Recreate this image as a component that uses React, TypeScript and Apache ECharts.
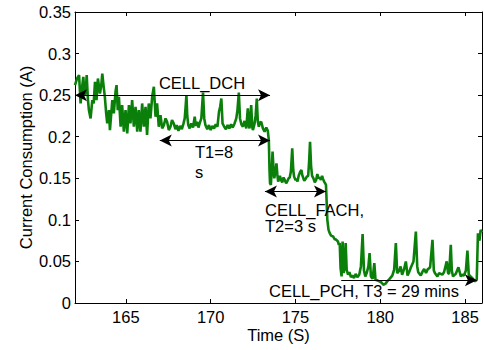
import React, { useEffect, useRef } from "react";
import * as echarts from "echarts";

const xTicks = [165, 170, 175, 180, 185];
const xMin = 162;
const xMax = 186;
const yMin = 0;
const yMax = 0.35;
const yStep = 0.05;

const times = [
  162.0, 162.12, 162.24, 162.33, 162.41, 162.49, 162.56, 162.63, 162.69, 162.76,
  162.82, 162.92, 163.02, 163.1, 163.18, 163.27, 163.35, 163.47, 163.55, 163.61,
  163.68, 163.76, 163.83, 163.9, 164.0, 164.06, 164.13, 164.2, 164.29, 164.39,
  164.45, 164.52, 164.59, 164.69, 164.78, 164.88, 164.98, 165.08, 165.18, 165.27,
  165.37, 165.47, 165.57, 165.67, 165.76, 165.86, 165.96, 166.06, 166.16, 166.25,
  166.35, 166.45, 166.55, 166.65, 166.75, 166.84, 166.94, 167.04, 167.14, 167.24,
  167.34, 167.43, 167.53, 167.63, 167.72, 167.82, 167.92, 168.0, 168.1, 168.2,
  168.3, 168.4, 168.47, 168.52, 168.57, 168.62, 168.68, 168.76, 168.86, 168.96,
  169.06, 169.12, 169.2, 169.28, 169.35, 169.45, 169.55, 169.62, 169.69, 169.8,
  169.9, 170.0, 170.1, 170.2, 170.3, 170.4, 170.49, 170.56, 170.63, 170.7,
  170.8, 170.9, 171.0, 171.1, 171.2, 171.3, 171.41, 171.51, 171.58, 171.66,
  171.73, 171.81, 171.9, 172.0, 172.1, 172.19, 172.25, 172.29, 172.39, 172.45,
  172.49, 172.58, 172.65, 172.72, 172.78, 172.84, 172.9, 172.98, 173.08, 173.18,
  173.28, 173.37, 173.43, 173.47, 173.5, 173.55, 173.6, 173.65, 173.72, 173.75,
  173.82, 173.88, 173.93, 173.98, 174.08, 174.15, 174.22, 174.3, 174.37, 174.45,
  174.53, 174.6, 174.66, 174.73, 174.81, 174.87, 174.92, 175.0, 175.06, 175.12,
  175.19, 175.28, 175.35, 175.4, 175.45, 175.52, 175.59, 175.67, 175.75, 175.81,
  175.86, 175.92, 175.98, 176.06, 176.14, 176.22, 176.29, 176.36, 176.43, 176.5,
  176.57, 176.63, 176.69, 176.75, 176.8, 176.88, 176.95, 177.02, 177.1, 177.22,
  177.3, 177.41, 177.5, 177.56, 177.61, 177.66, 177.72, 177.78, 177.84, 177.9,
  177.96, 178.02, 178.1, 178.18, 178.27, 178.35, 178.45, 178.55, 178.65, 178.76,
  178.86, 178.96, 179.04, 179.12, 179.2, 179.3, 179.37, 179.45, 179.55, 179.65,
  179.72, 179.85, 179.95, 180.05, 180.18, 180.3, 180.41, 180.55, 180.71, 180.82,
  180.92, 181.0, 181.12, 181.2, 181.29, 181.41, 181.51, 181.61, 181.72, 181.81,
  181.96, 182.1, 182.18, 182.24, 182.39, 182.5, 182.59, 182.7, 182.78, 182.94,
  183.08, 183.16, 183.22, 183.37, 183.47, 183.57, 183.66, 183.76, 183.92, 184.0,
  184.06, 184.16, 184.22, 184.29, 184.45, 184.61, 184.75, 184.85, 184.94, 185.05,
  185.14, 185.22, 185.28, 185.43, 185.59, 185.69, 185.76, 185.85, 185.92, 186.0,
];

const current = [
  0.262, 0.27, 0.274, 0.24, 0.258, 0.272, 0.25, 0.254, 0.274, 0.245,
  0.232, 0.222, 0.244, 0.24, 0.266, 0.244, 0.27, 0.252, 0.262, 0.276,
  0.262, 0.248, 0.23, 0.216, 0.232, 0.208, 0.226, 0.244, 0.228, 0.254,
  0.262, 0.232, 0.248, 0.212, 0.238, 0.206, 0.232, 0.204, 0.238, 0.216,
  0.244, 0.212, 0.236, 0.206, 0.232, 0.206, 0.24, 0.212, 0.236, 0.202,
  0.24, 0.222, 0.248, 0.26, 0.224, 0.24, 0.212, 0.226, 0.21, 0.214,
  0.222, 0.218, 0.208, 0.212, 0.22, 0.216, 0.209, 0.214, 0.207, 0.213,
  0.209, 0.216, 0.222, 0.235, 0.25, 0.225, 0.214, 0.21, 0.216, 0.211,
  0.224, 0.213, 0.218, 0.211, 0.216, 0.222, 0.253, 0.222, 0.214, 0.209,
  0.214, 0.208, 0.213, 0.21, 0.215, 0.212, 0.23, 0.236, 0.246, 0.216,
  0.212, 0.209, 0.214, 0.21, 0.215, 0.211, 0.216, 0.222, 0.232, 0.253,
  0.222, 0.215, 0.212, 0.219, 0.21, 0.234, 0.214, 0.21, 0.238, 0.212,
  0.208, 0.215, 0.225, 0.246, 0.218, 0.212, 0.217, 0.218, 0.21, 0.206,
  0.211, 0.207, 0.196, 0.16, 0.144, 0.142, 0.16, 0.182, 0.156, 0.15,
  0.158, 0.168, 0.155, 0.146, 0.153, 0.148, 0.145, 0.151, 0.148, 0.144,
  0.147, 0.15, 0.151, 0.158, 0.186, 0.16, 0.152, 0.148, 0.149, 0.146,
  0.153, 0.158, 0.16, 0.154, 0.151, 0.147, 0.149, 0.152, 0.153, 0.172,
  0.194, 0.165, 0.153, 0.15, 0.145, 0.148, 0.155, 0.15, 0.151, 0.148,
  0.153, 0.149, 0.146, 0.144, 0.142, 0.1, 0.088, 0.084, 0.081, 0.08,
  0.077, 0.076, 0.074, 0.07, 0.072, 0.042, 0.032, 0.074, 0.036, 0.042,
  0.072, 0.04, 0.034, 0.037, 0.031, 0.033, 0.03, 0.035, 0.031, 0.034,
  0.044, 0.083, 0.039, 0.032, 0.036, 0.044, 0.06, 0.032, 0.029, 0.048,
  0.028, 0.027, 0.026, 0.025, 0.022, 0.023, 0.026, 0.029, 0.033, 0.04,
  0.072, 0.036, 0.039, 0.044, 0.034, 0.041, 0.05, 0.033, 0.038, 0.043,
  0.05, 0.086, 0.044, 0.037, 0.033, 0.038, 0.041, 0.036, 0.04, 0.043,
  0.076, 0.039, 0.036, 0.032, 0.036, 0.035, 0.034, 0.037, 0.05, 0.036,
  0.035, 0.07, 0.039, 0.032, 0.035, 0.043, 0.032, 0.034, 0.033, 0.039,
  0.063, 0.034, 0.033, 0.03, 0.026, 0.028, 0.084, 0.075, 0.088, 0.085,
];

// annotation arrows
const arrowStartX = [162.0, 167.0, 173.2, 177.7];
const arrowEndX = [173.5, 173.5, 176.8, 185.7];
const arrowY = [0.25, 0.1955, 0.134, 0.0273];
const arrowBoth = [true, true, true, false];

const labelTexts = ["CELL_DCH", "T1=8", "s", "CELL_FACH,", "T2=3 s", "CELL_PCH, T3 = 29 mins"];

const FONT = "'Liberation Sans', Arial, Helvetica, sans-serif";
const FS = 16.5;

export default function App() {
  const ref = useRef<HTMLDivElement>(null);
  useEffect(() => {
    if (!ref.current) return;
    const chart = echarts.init(ref.current, null, { renderer: "svg" });
    const lineData = times.map((t, i) => [t, current[i]]);
    const markData = arrowStartX.map((x1, i) => [
      { coord: [x1, arrowY[i]], symbol: arrowBoth[i] ? "arrow" : "none" },
      { coord: [arrowEndX[i], arrowY[i]], symbol: "arrow" },
    ]);
    const axisCommon = {
      type: "value" as const,
      axisLine: { show: true, onZero: false, lineStyle: { color: "#000", width: 1 } },
      axisTick: { show: true, inside: true, length: 4, lineStyle: { color: "#000" } },
      splitLine: { show: false },
    };
    const textStyle = { fill: "#000", fontSize: FS, fontFamily: FONT };
    const pos = [
      { x: 202, y: 83, align: "center" },
      { x: 195, y: 152, align: "left" },
      { x: 195, y: 172, align: "left" },
      { x: 265, y: 209.5, align: "left" },
      { x: 265, y: 226, align: "left" },
      { x: 269, y: 290.5, align: "left" },
    ];
    chart.setOption({
      animation: false,
      grid: { left: 75, right: 2, top: 12, bottom: 47 },
      xAxis: [
        {
          ...axisCommon,
          min: xMin,
          max: xMax,
          position: "bottom",
          name: "Time (S)",
          nameLocation: "middle",
          nameGap: 23,
          nameMoveOverlap: false,
          nameTextStyle: { color: "#000", fontSize: FS, fontFamily: FONT },
          axisTick: { ...axisCommon.axisTick, customValues: xTicks },
          axisLabel: { customValues: xTicks, color: "#000", fontSize: FS, fontFamily: FONT, margin: 5 },
        },
        {
          ...axisCommon,
          min: xMin,
          max: xMax,
          position: "top",
          axisTick: { ...axisCommon.axisTick, customValues: xTicks },
          axisLabel: { show: false },
        },
      ],
      yAxis: [
        {
          ...axisCommon,
          min: yMin,
          max: yMax,
          interval: yStep,
          position: "left",
          name: "Current Consumption (A)",
          nameLocation: "middle",
          nameGap: 41,
          nameMoveOverlap: false,
          nameTextStyle: { color: "#000", fontSize: FS, fontFamily: FONT },
          axisLabel: { color: "#000", fontSize: FS, fontFamily: FONT, margin: 4 },
        },
        {
          ...axisCommon,
          min: yMin,
          max: yMax,
          interval: yStep,
          position: "right",
          axisLabel: { show: false },
        },
      ],
      series: [
        {
          type: "line",
          data: lineData,
          showSymbol: false,
          symbol: "none",
          lineStyle: { color: "#0a800a", width: 2.6 },
          z: 2,
          markLine: {
            silent: true,
            animation: false,
            symbolSize: [9, 12],
            lineStyle: { color: "#000", width: 1, type: "solid" },
            itemStyle: { color: "#000" },
            label: { show: false },
            emphasis: { disabled: true },
            z: 5,
            data: markData,
          },
        },
      ],
      graphic: labelTexts.map((t, i) => ({
        type: "text",
        x: pos[i].x,
        y: pos[i].y,
        z: 10,
        style: { ...textStyle, text: t, align: pos[i].align, verticalAlign: "middle" },
      })),
    });
    return () => chart.dispose();
  }, []);
  return (
    <div
      ref={ref}
      style={{ position: "fixed", left: 0, top: 0, width: 484, height: 350, background: "#fff" }}
    />
  );
}
